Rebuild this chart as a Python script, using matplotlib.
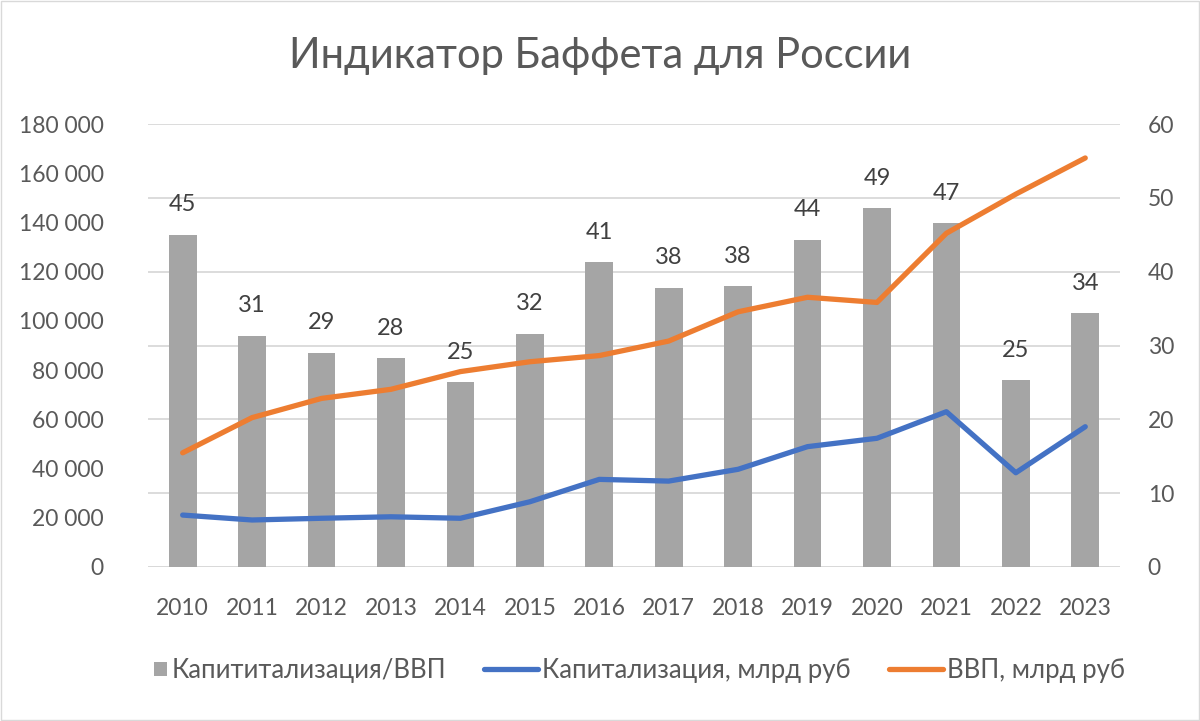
import numpy as np
import matplotlib.pyplot as plt
from matplotlib.patches import Rectangle
from matplotlib.legend_handler import HandlerBase

plt.rcParams['font.family'] = ['Lato', 'DejaVu Sans']

# Data
years = ['2010', '2011', '2012', '2013', '2014', '2015', '2016',
         '2017', '2018', '2019', '2020', '2021', '2022', '2023']
ratio = [45.0, 31.3, 29.0, 28.3, 25.0, 31.6, 41.3,
         37.8, 38.0, 44.3, 48.6, 46.6, 25.3, 34.4]
cap = [21100, 19100, 19800, 20400, 19800, 26500, 35600,
       34900, 39700, 48900, 52300, 63100, 38300, 57000]
gdp = [46400, 60700, 68500, 72200, 79400, 83400, 85900,
       91800, 103700, 109600, 107500, 135600, 151500, 166200]

x = np.arange(len(years))
text_col = '#595959'


# small square sitting at the right end of the handle box, like Excel
class SquareHandler(HandlerBase):
    def create_artists(self, legend, orig, xd, yd, width, height, fontsize, trans):
        s = height * 0.75
        r = Rectangle((xd + width - s, yd + (height - s) / 2), s, s,
                      facecolor=orig.get_facecolor(), edgecolor='none', transform=trans)
        return [r]


fig = plt.figure(figsize=(12, 7.21), dpi=100)
ax = fig.add_axes([0.1233, 0.2136, 0.81, 0.6144])
ax2 = ax.twinx()

# bars on the secondary (right) axis, lines on the primary
bars = ax2.bar(x, ratio, width=0.4, color='#A5A5A5', zorder=2)
for xi, v in zip(x, ratio):
    ax2.annotate(f'{v:.0f}', (xi, v), xytext=(0, 14), textcoords='offset points',
                 ha='center', va='bottom', fontsize=17, color='#404040')

ax.set_zorder(ax2.get_zorder() + 1)
ax.patch.set_visible(False)
l1, = ax.plot(x, cap, color='#4472C4', lw=3.8, solid_capstyle='round')
l2, = ax.plot(x, gdp, color='#ED7D31', lw=3.8, solid_capstyle='round')

ax.set_xlim(-0.5, len(years) - 0.5)
ax.set_ylim(0, 180000)
ax2.set_ylim(0, 60)
ax.set_yticks(np.arange(0, 180001, 20000))
ax.set_yticklabels([f'{v:,}'.replace(',', ' ') for v in range(0, 180001, 20000)])
ax2.set_yticks(np.arange(0, 61, 10))
ax.set_xticks(x)
ax.set_xticklabels(years)

for a in (ax, ax2):
    for s in a.spines.values():
        s.set_visible(False)
    a.tick_params(length=0, labelsize=16.5, labelcolor=text_col)
ax.tick_params(axis='y', pad=32)
ax2.tick_params(axis='y', pad=20)
ax.tick_params(axis='x', pad=22)

ax2.grid(axis='y', color='#D9D9D9', lw=1.3, zorder=0)
ax2.set_axisbelow(True)
ax2.axhline(0, color='#D9D9D9', lw=1.3, zorder=1)

fig.text(0.5, 0.922, 'Индикатор Баффета для России', ha='center', va='center',
         fontsize=30, color=text_col)

bar_handle = Rectangle((0, 0), 1, 1, facecolor='#A5A5A5')
fig.legend([bar_handle, l1, l2],
           ['Капититализация/ВВП', 'Капитализация, млрд руб', 'ВВП, млрд руб'],
           handler_map={Rectangle: SquareHandler()},
           loc='center', bbox_to_anchor=(0.516, 0.07), ncol=3, frameon=False,
           fontsize=18.5, labelcolor=text_col, handlelength=2.1, handletextpad=0.15,
           columnspacing=1.5)

fig.patches.append(Rectangle((0.001, 0.001), 0.998, 0.997, transform=fig.transFigure,
                             fill=False, edgecolor='#D9D9D9', lw=1))

fig.savefig('out.png', dpi=100)
